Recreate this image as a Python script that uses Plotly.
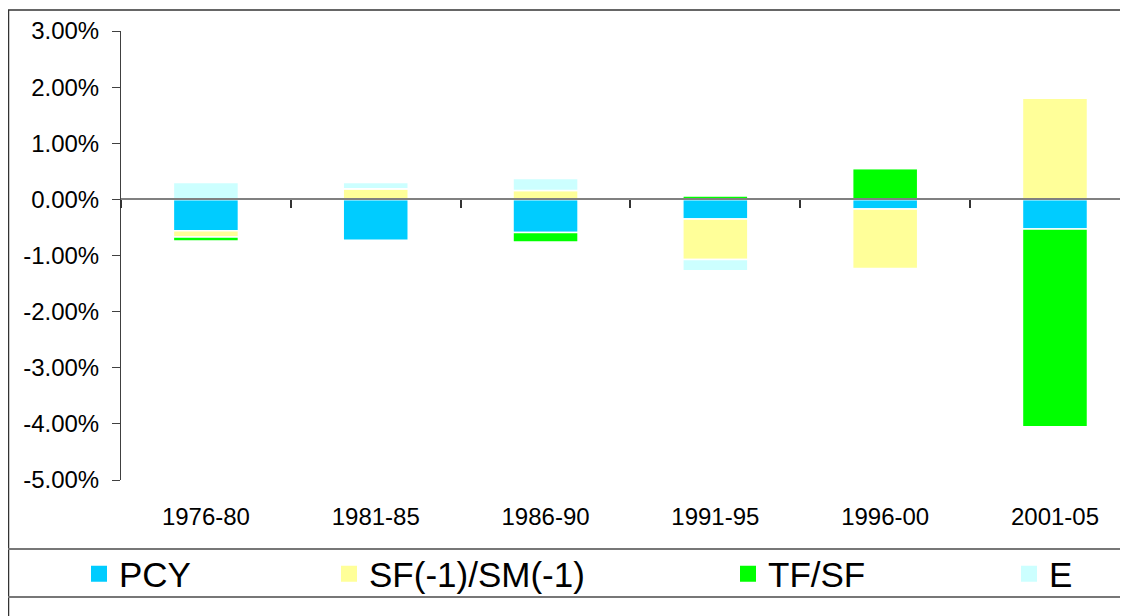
import plotly.graph_objects as go

periods = ["1976-80", "1981-85", "1986-90", "1991-95", "1996-00", "2001-05"]
pcy = [-0.56, -0.73, -0.59, -0.35, -0.17, -0.53]
sf_sm = [-0.11, 0.19, 0.16, -0.72, -1.06, 1.80]
tf_sf = [-0.07, 0.0, -0.17, 0.06, 0.55, -3.52]
e_vals = [0.30, 0.11, 0.21, -0.20, 0.0, 0.0]

y_tick_vals = [3, 2, 1, 0, -1, -2, -3, -4, -5]
y_tick_text = ["3.00%", "2.00%", "1.00%", "0.00%", "-1.00%", "-2.00%", "-3.00%", "-4.00%", "-5.00%"]

series_names = ["PCY", "SF(-1)/SM(-1)", "TF/SF", "E"]
series_vals = [pcy, sf_sm, tf_sf, e_vals]
series_colors = ["#00CCFF", "#FFFF99", "#00FF00", "#CCFFFF"]
legend_ids = ["legend", "legend2", "legend3", "legend4"]
legend_text_x_px = [119, 369, 768, 1049]

# page body has an 8px margin: work in reference pixels, shift by OFF
OFF = 8
W, H = 1128 - OFF, 616 - OFF
ML = 121 - OFF
MT = 31 - OFF
PLOT_BOTTOM = 480 - OFF
MB = H - PLOT_BOTTOM
MR = 0
PW = W - ML - MR
PH = H - MT - MB

def px_x(px):
    return (px - OFF - ML) / PW

def px_y(py):
    return (PLOT_BOTTOM - (py - OFF)) / PH

fig = go.Figure()
for name, vals, col in zip(series_names, series_vals, series_colors):
    fig.add_trace(go.Bar(
        x=periods, y=vals, name=name, showlegend=False,
        marker=dict(color=col, line=dict(color="white", width=1.5)),
    ))
# legend entries (square swatches)
for name, col, lid in zip(series_names, series_colors, legend_ids):
    fig.add_trace(go.Scatter(
        x=[None], y=[None], mode="markers", name=name, legend=lid,
        marker=dict(symbol="square", size=16, color=col, line=dict(width=0)),
        hoverinfo="skip",
    ))

layout_legends = {}
for lid, tx in zip(legend_ids, legend_text_x_px):
    layout_legends[lid] = dict(
        x=px_x(tx - 40), xanchor="left", y=px_y(574), yanchor="middle",
        orientation="h", bgcolor="rgba(0,0,0,0)", itemsizing="trace",
        font=dict(family="Liberation Sans, Arial", size=35, color="#000"),
    )

fig.update_layout(
    width=W, height=H,
    margin=dict(l=ML, r=MR, t=MT, b=MB),
    paper_bgcolor="white", plot_bgcolor="white",
    barmode="relative", bargap=0.617,
    showlegend=True,
    xaxis=dict(
        type="category", categoryorder="array", categoryarray=periods,
        range=[-0.5, 5.43], anchor="free", position=5 / 8,
        showline=True, linecolor="#808080", linewidth=2,
        ticks="outside", tickson="boundaries", ticklen=8, tickcolor="#333", tickwidth=1.5,
        ticklabelstandoff=296, showgrid=False, zeroline=False,
        tickfont=dict(family="Liberation Sans, Arial", size=24, color="#000"),
    ),
    yaxis=dict(
        range=[-5, 3], tickvals=y_tick_vals, ticktext=y_tick_text,
        showline=True, linecolor="#404040", linewidth=1,
        ticks="outside", ticklen=8, tickcolor="#404040",
        ticklabelstandoff=8, showgrid=False, zeroline=False,
        tickfont=dict(family="Liberation Sans, Arial", size=24, color="#000"),
    ),
    **layout_legends,
)

# chart frame and legend separator lines
frame_color = "#333"
fig.add_shape(type="line", xref="paper", yref="paper",
              x0=px_x(8), x1=px_x(1140), y0=px_y(10), y1=px_y(10),
              line=dict(color=frame_color, width=1.5))
fig.add_shape(type="line", xref="paper", yref="paper",
              x0=px_x(8.5), x1=px_x(8.5), y0=px_y(10), y1=px_y(620),
              line=dict(color=frame_color, width=1.5))
for py in (549, 597):
    fig.add_shape(type="line", xref="paper", yref="paper",
                  x0=px_x(8), x1=px_x(1140), y0=px_y(py), y1=px_y(py),
                  line=dict(color="#777", width=2))

fig.write_html("out.html")
